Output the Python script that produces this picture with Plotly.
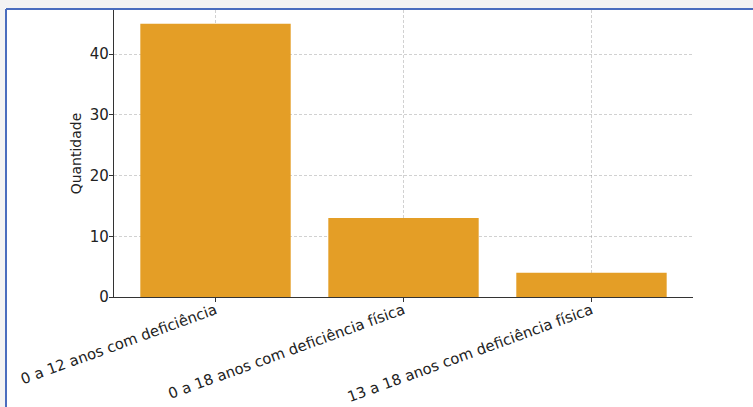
import plotly.graph_objects as go

categories = ["0 a 12 anos com deficiência",
              "0 a 18 anos com deficiência física",
              "13 a 18 anos com deficiência física"]
values = [45, 13, 4]
y_ticks = [0, 10, 20, 30, 40]

W, H = 753, 407
L, R, T, B = 114, 60, 10, 110
pw, ph = W - L - R, H - T - B

def px_x(px):
    return (px - L) / pw

def px_y(py):
    return (H - B - py) / ph

fig = go.Figure(go.Bar(
    x=categories, y=values,
    marker=dict(color="#E49E26", line=dict(width=0)),
    width=0.8,
))

font = "DejaVu Sans, Verdana, sans-serif"
grid = "rgba(140,140,140,0.4)"

fig.update_layout(
    width=W, height=H,
    margin=dict(l=L, r=R, t=T, b=B),
    paper_bgcolor="white", plot_bgcolor="white",
    showlegend=False,
    font=dict(family=font, size=14.5, color="#222"),
    xaxis=dict(
        range=[-0.54, 2.54],
        tickangle=-20,
        automargin=False,
        ticklabelstandoff=-6,
        showline=True, linecolor="#333", linewidth=1.2,
        ticks="outside", ticklen=4, tickcolor="#333",
        showgrid=True, gridcolor=grid, griddash="3px,2px", gridwidth=1,
        layer="above traces",
        tickfont=dict(size=14.8, family=font, color="#222"),
    ),
    yaxis=dict(
        range=[0, 47.25],
        tickvals=y_ticks,
        automargin=False,
        ticklabelstandoff=-3,
        showline=True, linecolor="#333", linewidth=1.2,
        ticks="outside", ticklen=4, tickcolor="#333",
        showgrid=True, gridcolor=grid, griddash="3px,2px", gridwidth=1,
        zeroline=False,
        layer="above traces",
        title=dict(text="Quantidade", font=dict(size=14, family=font, color="#222"), standoff=4),
        tickfont=dict(size=15, family=font, color="#222"),
    ),
    shapes=[
        dict(type="rect", xref="paper", yref="paper", x0=px_x(0), x1=px_x(W), y0=px_y(8), y1=px_y(0),
             fillcolor="#f3f3f3", line=dict(width=0), layer="above"),
        dict(type="rect", xref="paper", yref="paper", x0=px_x(0), x1=px_x(5), y0=px_y(H), y1=px_y(0),
             fillcolor="#f3f3f3", line=dict(width=0), layer="above"),
        dict(type="line", xref="paper", yref="paper", x0=px_x(6), x1=px_x(W), y0=px_y(9), y1=px_y(9),
             line=dict(color="#4A6DBE", width=2), layer="above"),
        dict(type="line", xref="paper", yref="paper", x0=px_x(6), x1=px_x(6), y0=px_y(9), y1=px_y(H),
             line=dict(color="#4A6DBE", width=2), layer="above"),
    ],
)

fig.write_html(
    "out.html",
    config={"displayModeBar": False},
    post_script="document.body.style.margin='0';document.body.style.padding='0';document.body.style.overflow='hidden';",
)
